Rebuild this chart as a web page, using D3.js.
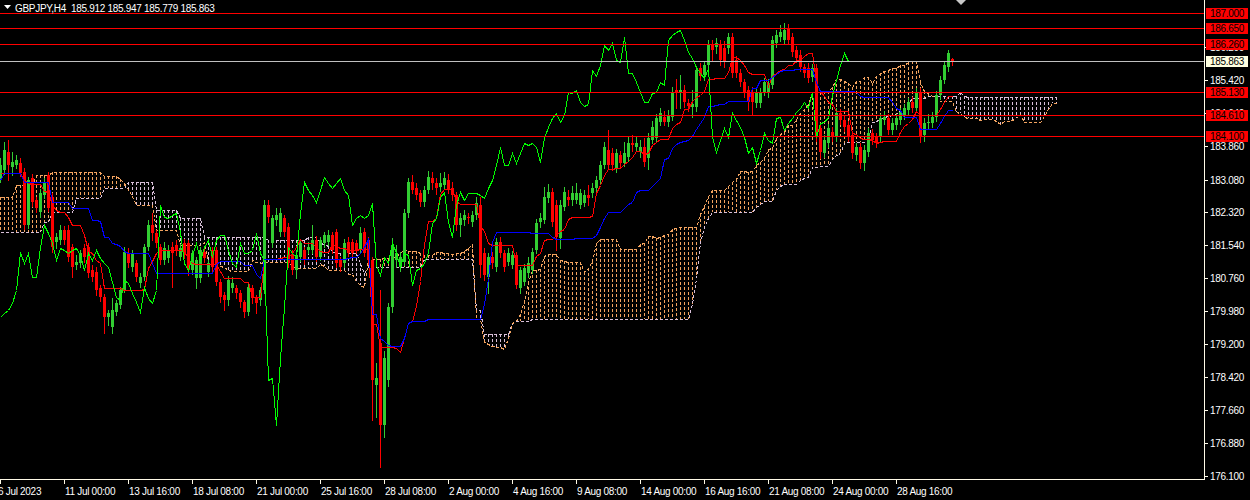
<!DOCTYPE html>
<html><head><meta charset="utf-8">
<script src="https://cdn.jsdelivr.net/npm/d3@7/dist/d3.min.js"></script>
<style>
html,body{margin:0;padding:0;background:#000;overflow:hidden}
svg{display:block}
text{font-family:"Liberation Sans",Arial,sans-serif;font-size:10px;letter-spacing:-0.3px}
</style></head><body>
<svg id="c" width="1250" height="500"></svg>
<script>
const symbolTitle = "GBPJPY,H4";
const lastQuote = [185.912, 185.947, 185.779, 185.863];

const opens = [
183.11,183.30,183.72,183.37,183.42,183.46,183.25,182.01,183.11,182.59,
182.31,182.71,183.18,182.66,181.61,181.65,181.89,181.89,181.49,181.06,
181.11,181.46,181.49,180.95,180.90,180.52,180.31,179.84,179.61,179.96,
180.12,180.48,181.35,181.02,181.11,180.64,180.78,181.49,182.01,181.82,
181.49,181.18,181.23,181.49,181.54,181.25,181.58,181.58,180.95,180.76,
180.76,181.37,180.90,181.42,181.42,180.66,180.36,180.24,180.52,180.52,
180.41,180.19,179.96,180.52,180.29,180.24,180.48,182.48,181.58,182.12,
181.84,182.17,181.96,181.30,180.95,181.25,181.42,181.42,181.42,181.65,
181.25,181.58,181.61,181.77,181.84,181.18,181.11,181.61,181.61,181.58,
181.42,181.84,181.65,181.18,178.24,179.23,177.30,178.36,180.08,181.18,
181.02,181.14,182.29,183.02,182.88,182.76,182.55,182.83,183.11,182.99,
182.90,182.95,183.06,182.88,182.71,182.01,182.12,182.19,182.08,182.24,
182.48,181.35,180.78,181.25,181.02,181.61,181.35,181.14,181.06,181.30,
180.52,180.66,180.88,180.95,181.42,182.08,182.12,182.64,182.78,182.48,
181.70,182.43,182.66,182.59,182.59,182.48,182.52,182.71,182.76,182.88,
183.06,183.42,183.77,183.70,183.35,183.65,183.46,183.61,183.94,183.84,
183.72,183.84,183.58,184.01,184.05,184.43,184.55,184.43,184.55,185.18,
185.11,185.18,184.88,184.78,184.78,185.70,185.54,185.77,186.24,186.19,
186.24,186.17,186.17,186.43,185.89,185.58,185.37,185.18,185.14,184.88,
184.88,185.14,185.14,185.30,186.29,186.43,186.36,186.64,186.43,186.12,
186.01,185.72,185.70,185.49,185.70,184.29,183.70,183.94,184.19,184.08,
184.64,184.48,184.36,184.12,183.65,183.84,183.46,183.72,184.17,184.08,
184.08,184.48,184.52,184.24,184.36,184.48,184.59,184.71,184.90,184.76,
185.14,184.12,184.41,184.41,184.55,185.06,185.42,185.72,185.912];

const highs = [
183.58,183.96,184.01,183.72,183.65,183.58,183.35,183.15,183.21,182.66,
182.85,183.11,183.25,182.76,181.82,182.01,181.98,182.01,181.56,181.30,
181.42,181.56,181.58,181.06,181.02,180.59,180.38,180.01,180.29,180.24,
180.55,181.49,181.46,181.42,181.18,180.88,181.56,182.12,182.29,181.89,
181.56,181.61,181.54,181.61,181.65,181.56,181.68,181.65,181.42,181.25,
181.49,181.46,181.18,181.49,181.49,180.73,180.43,180.81,180.78,180.59,
180.48,180.24,180.64,180.59,180.36,180.55,182.59,182.59,182.24,182.41,
182.41,182.24,182.05,181.42,181.42,181.65,181.49,181.61,182.01,181.75,
181.72,181.84,181.89,181.84,181.91,181.25,181.68,181.72,181.68,181.65,
181.96,181.94,181.72,181.25,178.76,180.48,179.04,180.17,181.70,181.54,
181.37,182.38,183.11,183.18,182.99,182.83,182.92,183.28,183.25,183.11,
183.23,183.25,183.21,183.02,182.78,182.29,182.36,182.29,182.33,182.66,
182.66,181.46,181.35,181.37,181.70,181.72,181.42,181.46,181.40,181.37,
181.02,181.09,181.25,181.46,182.15,182.29,182.90,182.97,182.88,182.59,
182.59,182.90,182.83,182.92,182.99,182.85,182.83,182.95,182.99,183.16,
183.51,183.96,184.24,183.82,183.80,183.75,183.96,184.10,184.12,184.10,
184.01,184.05,184.17,184.45,184.62,184.76,184.69,184.71,185.25,185.44,
185.53,185.30,184.97,185.18,185.72,185.82,185.86,186.36,186.36,186.40,
186.36,186.33,186.52,186.52,185.98,185.68,185.44,185.28,185.25,185.21,
185.23,185.46,185.44,186.45,186.59,186.71,186.76,186.73,186.52,186.22,
186.12,185.79,185.82,185.79,185.79,184.38,184.12,184.38,184.31,184.76,
184.73,184.57,184.45,184.22,183.94,183.94,183.89,184.29,184.26,184.17,
184.62,184.69,184.62,184.52,184.62,184.76,184.85,184.99,185.02,185.23,
185.23,184.52,184.62,184.66,185.16,185.51,185.86,186.12,185.947];

const lows = [
183.02,183.21,183.06,183.18,183.35,183.16,181.92,181.94,182.45,182.31,
182.20,182.64,182.34,181.38,181.47,181.56,181.56,181.16,180.78,180.97,
181.02,181.14,180.78,180.69,180.36,180.22,179.46,179.65,179.46,179.89,
180.05,180.43,181.02,180.92,180.69,180.55,180.71,181.42,181.65,181.49,
181.09,181.09,181.14,180.55,181.30,181.18,181.23,180.83,180.85,180.52,
180.66,181.14,180.81,180.92,180.59,180.19,180.01,180.12,180.43,180.29,
180.08,179.84,179.89,180.17,179.94,180.12,180.41,182.08,181.49,182.01,
181.75,181.75,181.02,180.85,180.76,181.16,181.09,181.35,181.35,181.16,
181.18,181.49,181.54,181.35,181.02,180.92,181.02,181.28,181.25,181.35,
181.35,181.28,181.09,177.42,177.49,176.31,177.02,178.22,179.96,181.02,
180.92,181.06,182.20,182.76,182.62,182.45,182.45,182.76,182.85,182.73,
182.80,182.85,182.76,182.59,181.89,181.75,182.01,182.05,181.98,182.15,
180.78,180.71,180.41,180.99,180.92,181.25,180.92,181.06,180.99,180.52,
180.41,180.59,180.78,180.88,181.35,181.96,182.05,182.55,181.98,181.42,
181.47,182.36,182.48,182.48,182.52,182.41,182.45,182.48,182.66,182.80,
182.99,183.35,183.32,183.30,183.25,183.37,183.39,183.51,183.75,183.75,
183.61,183.39,183.32,183.94,183.96,184.36,184.36,184.33,184.48,184.76,
184.76,184.78,184.69,184.55,184.69,185.42,185.42,185.70,185.86,186.05,
185.77,185.72,186.05,185.49,185.49,185.28,185.02,184.71,184.59,184.78,
184.78,185.06,185.02,185.23,186.19,186.33,186.26,186.26,185.98,185.84,
185.63,185.49,185.37,185.39,183.98,183.58,183.61,183.84,183.98,183.98,
184.38,184.22,183.98,183.58,183.54,183.35,183.30,183.63,183.91,183.84,
183.98,184.38,184.15,184.15,184.26,184.38,184.50,184.62,184.66,184.66,
183.96,183.98,184.29,184.31,184.45,184.97,185.35,185.63,185.779];

const closes = [
183.42,183.77,183.42,183.49,183.54,183.23,182.01,183.06,182.55,182.41,
182.76,182.99,182.41,181.49,181.72,181.89,181.65,181.25,181.02,181.14,
181.35,181.25,180.88,180.78,180.48,180.31,179.84,179.94,180.01,180.17,
180.48,181.37,181.11,181.35,180.78,180.78,181.49,182.01,181.82,181.58,
181.18,181.46,181.42,181.35,181.42,181.46,181.30,180.95,181.35,181.18,
181.42,181.23,181.11,181.02,180.66,180.31,180.24,180.71,180.64,180.41,
180.19,179.96,180.55,180.29,180.17,180.48,182.48,182.19,182.17,182.24,
182.29,181.84,181.11,180.95,181.30,181.58,181.18,181.49,181.65,181.25,
181.65,181.77,181.77,181.42,181.11,181.02,181.58,181.35,181.35,181.42,
181.82,181.35,181.18,178.36,178.41,177.30,178.88,180.08,181.49,181.35,
181.25,182.29,183.02,182.83,182.71,182.55,182.83,183.14,182.99,182.88,
182.99,183.11,182.83,182.71,182.01,182.17,182.24,182.17,182.24,182.52,
181.06,180.83,181.25,181.11,181.61,181.35,181.02,181.35,181.30,180.59,
180.95,180.99,181.11,181.37,182.05,182.17,182.66,182.78,182.08,181.72,
182.48,182.78,182.59,182.76,182.76,182.76,182.71,182.64,182.88,183.06,
183.42,183.84,183.42,183.42,183.70,183.46,183.70,183.94,183.89,183.94,
183.84,183.49,184.05,184.31,184.52,184.64,184.43,184.59,185.14,185.11,
185.18,184.90,184.81,184.85,185.65,185.51,185.77,186.24,186.12,186.29,
185.89,185.84,186.43,185.58,185.58,185.37,185.14,184.90,184.90,185.11,
185.14,185.37,185.30,186.36,186.48,186.55,186.59,186.36,186.08,185.94,
185.72,185.58,185.46,185.70,184.08,183.72,184.01,184.29,184.08,184.64,
184.48,184.31,184.08,183.70,183.84,183.46,183.77,184.17,184.01,183.94,
184.52,184.55,184.24,184.41,184.52,184.66,184.76,184.90,184.76,185.14,
184.08,184.41,184.43,184.55,185.06,185.42,185.77,186.05,185.863];

const tenkanHead = [183.23,183.23,183.23,183.23,183.23,183.23,183.10,183.00];
const kijunHead = [183.06,183.23,183.23,183.23,183.23,183.23,
  183.02,183.02,183.02,183.02,183.02,183.02,183.02,
  182.55,182.55,182.55,182.55,182.55,
  182.41,182.41,182.41,182.41,182.41,182.12,182.12];
const spanAHead = [182.66,182.66,182.66,182.66,182.95,182.95,182.95,182.95,182.95,
  183.18,183.18,183.18,183.18,
  183.25,183.25,183.25,183.25,183.25,183.25,183.25,183.25,183.25,183.25,183.25,183.25,183.25,
  183.16,183.16,183.16,183.16,183.10,183.00,
  182.85,182.70,182.48,182.48,182.48,182.48,182.48,
  181.89,181.89,181.89,181.89,181.89,181.89,
  181.54,181.54,181.54,181.54,181.54,181.54];
const spanBHead = [181.84,181.84,181.84,181.84,181.84,181.84,181.84,181.84,181.84,181.84,181.84,
  182.08,182.08,
  182.31,182.31,182.31,182.31,182.31,182.31,
  182.64,182.64,182.64,182.64,182.64,182.64,182.64,
  182.88,182.88,182.88,182.88,182.88,182.88,
  183.02,183.02,183.02,183.02,183.02,183.02,183.02,
  182.36,182.36,182.36,182.36,182.36,182.36,
  182.17,182.17,182.17,182.17,182.17,182.17,
  181.72,181.72,181.72,181.72,181.72,181.72,181.72,181.72,181.72,181.72,181.72,181.72,181.72,181.72,181.72,181.72,
  181.65,181.65,181.65,181.65,181.65,181.65,181.65,181.65,181.65,181.65];

const levelLines = [187.000, 186.650, 186.260, 185.130, 184.610, 184.100];
const priceTicks = [176.100,176.880,177.660,178.420,179.200,179.980,180.760,181.540,182.320,183.080,183.860,184.640,185.420,186.200];
const timeTickBars = [0,16,32,48,64,80,96,112,128,144,160,176,192,208,224];
const timeTickLabels = ["6 Jul 2023","11 Jul 00:00","13 Jul 16:00","18 Jul 08:00","21 Jul 00:00","25 Jul 16:00","28 Jul 08:00","2 Aug 00:00","4 Aug 16:00","9 Aug 08:00","14 Aug 00:00","16 Aug 16:00","21 Aug 08:00","24 Aug 00:00","28 Aug 16:00"];

// ---------- drawing ----------
const svg = d3.select('#c');
const plotW = 1204, plotH = 479;
svg.append('rect').attr('width',1250).attr('height',500).attr('fill','#000');
svg.append('defs').append('clipPath').attr('id','plot')
  .append('rect').attr('x',0).attr('y',0).attr('width',plotW).attr('height',plotH);
const g = svg.append('g').attr('clip-path','url(#plot)').attr('shape-rendering','crispEdges');

const n = closes.length;
const x = d3.scaleLinear().domain([0, 1]).range([0, 4]);
const y = d3.scaleLinear().domain([176.1, 187.0]).range([476, 13]);

const hh = (a,b) => d3.max(highs.slice(a,b+1));
const ll = (a,b) => d3.min(lows.slice(a,b+1));
const tenkan = closes.map((_,i) => i >= 8 ? (hh(i-8,i)+ll(i-8,i))/2 : tenkanHead[i]);
const kijun = closes.map((_,i) => i >= 25 ? (hh(i-25,i)+ll(i-25,i))/2 : kijunHead[i]);
const nCloud = n + 26;
const spanA = d3.range(nCloud).map(j => j < spanAHead.length ? spanAHead[j] : (tenkan[j-26]+kijun[j-26])/2);
const spanB = d3.range(nCloud).map(j => j < spanBHead.length ? spanBHead[j] : (hh(j-77,j-26)+ll(j-77,j-26))/2);

const ORANGE = '#F4A460', THISTLE = '#D8BFD8';
// cloud hatch
g.append('g').selectAll('line').data(d3.range(nCloud)).join('line')
  .attr('x1', j => x(j)+0.5).attr('x2', j => x(j)+0.5)
  .attr('y1', j => Math.round(Math.min(y(spanA[j]), y(spanB[j]))))
  .attr('y2', j => Math.round(Math.max(y(spanA[j]), y(spanB[j]))))
  .attr('stroke', j => spanA[j] >= spanB[j] ? ORANGE : THISTLE)
  .attr('stroke-width',1).attr('stroke-dasharray','3,2');
// cloud boundaries
const lineGen = arr => d3.line().x(j => x(j)+0.5).y(j => Math.round(y(arr[j]))+0.5)(d3.range(arr.length));
g.append('path').attr('d', lineGen(spanB)).attr('fill','none').attr('stroke',THISTLE).attr('stroke-dasharray','3,2');
g.append('path').attr('d', lineGen(spanA)).attr('fill','none').attr('stroke',ORANGE).attr('stroke-dasharray','3,2');

// candles
const BULL = '#32CD32', BEAR = '#FF0000';
const cg = g.append('g');
const idx = d3.range(n);
cg.selectAll('line').data(idx).join('line')
  .attr('x1', i => x(i)+0.5).attr('x2', i => x(i)+0.5)
  .attr('y1', i => Math.round(y(highs[i]))).attr('y2', i => Math.round(y(lows[i]))+1)
  .attr('stroke', i => closes[i] >= opens[i] ? BULL : BEAR);
cg.selectAll('rect').data(idx).join('rect')
  .attr('x', i => x(i)-1).attr('width',3)
  .attr('y', i => Math.round(y(Math.max(opens[i],closes[i]))))
  .attr('height', i => Math.max(1, Math.round(y(Math.min(opens[i],closes[i]))) - Math.round(y(Math.max(opens[i],closes[i])))))
  .attr('fill', i => closes[i] >= opens[i] ? BULL : BEAR);

// tenkan, kijun, chikou
g.append('path').attr('d', lineGen(tenkan)).attr('fill','none').attr('stroke','#FF0000');
g.append('path').attr('d', lineGen(kijun)).attr('fill','none').attr('stroke','#0000FF');
const chikouIdx = d3.range(26, n);
g.append('path').attr('d', d3.line().x(i => x(i-26)+0.5).y(i => Math.round(y(closes[i]))+0.5)(chikouIdx))
  .attr('fill','none').attr('stroke','#00FF00');

// horizontal levels
g.selectAll('line.lvl').data(levelLines).join('line').attr('class','lvl')
  .attr('x1',0).attr('x2',plotW)
  .attr('y1', v => Math.round(y(v))+0.5).attr('y2', v => Math.round(y(v))+0.5)
  .attr('stroke','#FF0000');
g.append('line').attr('x1',0).attr('x2',plotW)
  .attr('y1', Math.round(y(lastQuote[3]))+0.5).attr('y2', Math.round(y(lastQuote[3]))+0.5)
  .attr('stroke','#C0C0C0');

// axes
const AX = '#FFFBE8';
const ax = svg.append('g').attr('shape-rendering','crispEdges');
ax.append('line').attr('x1',plotW+0.5).attr('x2',plotW+0.5).attr('y1',0).attr('y2',plotH+1).attr('stroke',AX);
ax.append('line').attr('x1',0).attr('x2',plotW+1).attr('y1',plotH+0.5).attr('y2',plotH+0.5).attr('stroke',AX);
const pt = ax.selectAll('g.pt').data(priceTicks).join('g').attr('class','pt');
pt.append('line').attr('x1',plotW+1).attr('x2',plotW+4)
  .attr('y1', v => Math.round(y(v))+0.5).attr('y2', v => Math.round(y(v))+0.5).attr('stroke',AX);
pt.append('text').attr('x',plotW+6).attr('y', v => Math.round(y(v))+4)
  .attr('fill','#FFFFFF').text(v => v.toFixed(3));
const tt = ax.selectAll('g.tt').data(timeTickBars).join('g').attr('class','tt');
tt.append('line').attr('x1', i => x(i)+0.5).attr('x2', i => x(i)+0.5)
  .attr('y1',plotH+1).attr('y2',plotH+5).attr('stroke',AX);
tt.append('text').attr('x', (i,k) => k === 0 ? -2 : x(i)+1).attr('y',495)
  .attr('fill','#FFFFFF').text((i,k) => timeTickLabels[k]);

// level labels
const lab = svg.append('g');
const lg = lab.selectAll('g').data(levelLines).join('g');
lg.append('rect').attr('x',plotW+2).attr('width',42)
  .attr('y', v => Math.round(y(v))-5).attr('height',11).attr('fill','#FF0000');
lg.append('text').attr('x',plotW+6).attr('y', v => Math.round(y(v))+4)
  .attr('fill','#000').text(v => v.toFixed(3));
lab.append('rect').attr('x',plotW+2).attr('width',42)
  .attr('y', Math.round(y(lastQuote[3]))-5).attr('height',11).attr('fill','#FFFFE0');
lab.append('text').attr('x',plotW+6).attr('y', Math.round(y(lastQuote[3]))+4)
  .attr('fill','#000').text(lastQuote[3].toFixed(3));

// header
svg.append('path').attr('d','M4,5 L11,5 L7.5,9 Z').attr('fill','#FFFFFF');
svg.append('text').attr('x',15).attr('y',12).attr('fill','#FFFFFF').style('white-space','pre')
  .text(symbolTitle + '  ' + lastQuote.map(v => v.toFixed(3)).join(' '));
svg.append('path').attr('d','M956,0 L966,0 L961,5 Z').attr('fill','#C8C8C8');
</script>
</body></html>
